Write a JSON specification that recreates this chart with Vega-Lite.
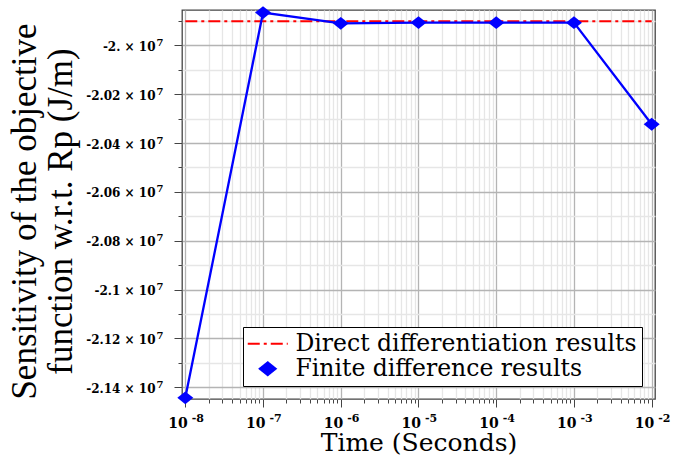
{
  "$schema": "https://vega.github.io/schema/vega-lite/v6.json",
  "width": 473,
  "height": 389,
  "autosize": {"type": "none"},
  "padding": {"left": 182, "top": 10, "right": 18, "bottom": 58},
  "background": "white",
  "config": {
    "view": {"stroke": "#444444", "strokeWidth": 1.3},
    "axis": {
      "domain": false,
      "tickColor": "#444444",
      "labelFont": "DejaVu Serif",
      "labelFontWeight": "bold",
      "labelColor": "black",
      "labelOverlap": false,
      "labelFlush": false,
      "labelBound": false,
      "titleColor": "black",
      "titleFontWeight": "normal"
    }
  },
  "datasets": {
    "direct": [
      {"time": 1e-8, "value": -19901400, "series": "Direct differentiation results"},
      {"time": 1e-2, "value": -19901400, "series": "Direct differentiation results"}
    ],
    "finite": [
      {"time": 1e-8, "value": -21443100, "series": "Finite difference results"},
      {"time": 1e-7, "value": -19866100, "series": "Finite difference results"},
      {"time": 1e-6, "value": -19910000, "series": "Finite difference results"},
      {"time": 1e-5, "value": -19907000, "series": "Finite difference results"},
      {"time": 1e-4, "value": -19907200, "series": "Finite difference results"},
      {"time": 1e-3, "value": -19907200, "series": "Finite difference results"},
      {"time": 1e-2, "value": -20323200, "series": "Finite difference results"}
    ]
  },
  "resolve": {"axis": {"x": "independent", "y": "independent"}},
  "layer": [
    {
      "encoding": {
        "x": {
          "field": "time",
          "type": "quantitative",
          "scale": {"type": "log", "domain": [9.07e-9, 0.011026], "nice": false},
          "axis": {
            "orient": "bottom",
            "title": "Time (Seconds)",
            "titleFont": "DejaVu Serif",
            "titleFontSize": 25,
            "titlePadding": 0,
            "labelFontSize": 14,
            "labelAlign": "right",
            "labelBaseline": "alphabetic",
            "labelOffset": 2,
            "labelPadding": 20,
            "values": [1e-8, 2e-8, 3e-8, 4e-8, 5e-8, 6e-8, 7e-8, 8e-8, 9e-8,
                       1e-7, 2e-7, 3e-7, 4e-7, 5e-7, 6e-7, 7e-7, 8e-7, 9e-7,
                       1e-6, 2e-6, 3e-6, 4e-6, 5e-6, 6e-6, 7e-6, 8e-6, 9e-6,
                       1e-5, 2e-5, 3e-5, 4e-5, 5e-5, 6e-5, 7e-5, 8e-5, 9e-5,
                       1e-4, 2e-4, 3e-4, 4e-4, 5e-4, 6e-4, 7e-4, 8e-4, 9e-4,
                       1e-3, 2e-3, 3e-3, 4e-3, 5e-3, 6e-3, 7e-3, 8e-3, 9e-3, 1e-2],
            "labelExpr": "abs(log(datum.value)/LN10 - round(log(datum.value)/LN10)) < 0.001 ? '10' : ''",
            "tickSize": {"condition": {"test": "abs(log(datum.value)/LN10 - round(log(datum.value)/LN10)) < 0.001", "value": 8}, "value": 4},
            "gridColor": {"condition": {"test": "abs(log(datum.value)/LN10 - round(log(datum.value)/LN10)) < 0.001", "value": "#b4b4b4"}, "value": "#e6e6e6"},
            "gridWidth": 1.3
          }
        },
        "y": {
          "field": "value",
          "type": "quantitative",
          "scale": {"domain": [-21447900, -19855500], "nice": false, "zero": false},
          "axis": {
            "orient": "left",
            "title": ["Sensitivity of the objective", "function w.r.t. Rp (J/m)"],
            "titleFont": "Liberation Serif",
            "titleFontSize": 35,
            "titleLineHeight": 36,
            "titlePadding": 7,
            "titleY": 201,
            "labelFontSize": 12,
            "labelAlign": "right",
            "labelBaseline": "alphabetic",
            "labelOffset": 5,
            "labelPadding": 19,
            "values": [-21400000, -21300000, -21200000, -21100000, -21000000, -20900000, -20800000, -20700000, -20600000, -20500000, -20400000, -20300000, -20200000, -20100000, -20000000, -19900000],
            "labelExpr": "abs(round(datum.value/100000)) % 2 == 0 ? (datum.value == -20000000 ? '-2. × 10' : '-' + format(-datum.value/1e7, '.3~f') + ' × 10') : ''",
            "tickSize": {"condition": {"test": "abs(round(datum.value/100000)) % 2 == 0", "value": 8}, "value": 4},
            "gridColor": {"condition": {"test": "abs(round(datum.value/100000)) % 2 == 0", "value": "#b4b4b4"}, "value": "#e6e6e6"},
            "gridWidth": 1.3
          }
        },
        "color": {
          "field": "series",
          "type": "nominal",
          "scale": {"domain": ["Direct differentiation results", "Finite difference results"], "range": ["#ff0000", "#0000ff"]},
          "legend": {
            "title": null,
            "orient": "none",
            "legendX": 61,
            "legendY": 317,
            "strokeColor": "black",
            "fillColor": "white",
            "padding": 5,
            "symbolOffset": 8,
            "labelFont": "DejaVu Serif",
            "labelFontSize": 23.5,
            "labelColor": "black",
            "labelLimit": 600,
            "labelOffset": 16,
            "symbolSize": 576,
            "rowPadding": 0,
            "encode": {
              "symbols": {
                "update": {
                  "shape": {"signal": "datum.value === 'Direct differentiation results' ? 'stroke' : 'M-1,0L0,-0.8L1,0L0,0.8Z'"},
                  "size": {"signal": "datum.value === 'Direct differentiation results' ? 1600 : 256"},
                  "strokeDash": {"signal": "datum.value === 'Direct differentiation results' ? [12, 4, 3, 4] : [1, 0]"},
                  "stroke": {"signal": "datum.value === 'Direct differentiation results' ? '#ff0000' : '#0000ff'"},
                  "fill": {"signal": "datum.value === 'Direct differentiation results' ? 'transparent' : '#0000ff'"},
                  "strokeWidth": {"value": 2},
                  "opacity": {"value": 1}
                }
              }
            }
          }
        }
      },
      "layer": [
        {
          "data": {"name": "direct"},
          "mark": {"type": "line", "strokeDash": [12, 4, 3, 4], "strokeWidth": 2}
        },
        {
          "data": {"name": "finite"},
          "mark": {"type": "line", "strokeWidth": 2.3}
        },
        {
          "data": {"name": "finite"},
          "mark": {"type": "point", "shape": "M-1,0L0,-0.8L1,0L0,0.8Z", "filled": true, "size": 256, "opacity": 1}
        }
      ]
    },
    {
      "data": {"name": "direct"},
      "mark": {"type": "point", "opacity": 0},
      "encoding": {
        "x": {
          "field": "time",
          "type": "quantitative",
          "scale": {"type": "log", "domain": [9.07e-9, 0.011026], "nice": false},
          "axis": {
            "orient": "bottom",
            "title": null,
            "grid": false,
            "ticks": true,
            "tickSize": 0,
            "tickOpacity": 0,
            "labelFontSize": 11,
            "labelAlign": "left",
            "labelBaseline": "alphabetic",
            "labelOffset": 6,
            "labelPadding": 22,
            "values": [1e-8, 1e-7, 1e-6, 1e-5, 1e-4, 1e-3, 1e-2],
            "labelExpr": "'-' + format(-round(log(datum.value)/LN10), 'd')"
          }
        },
        "y": {
          "field": "value",
          "type": "quantitative",
          "scale": {"domain": [-21447900, -19855500], "nice": false, "zero": false},
          "axis": {
            "orient": "left",
            "title": null,
            "grid": false,
            "ticks": true,
            "tickSize": 0,
            "tickOpacity": 0,
            "labelFontSize": 10,
            "labelAlign": "right",
            "labelBaseline": "alphabetic",
            "labelOffset": 0,
            "labelPadding": 19,
            "values": [-21400000, -21200000, -21000000, -20800000, -20600000, -20400000, -20200000, -20000000],
            "labelExpr": "'7'"
          }
        }
      }
    }
  ]
}
